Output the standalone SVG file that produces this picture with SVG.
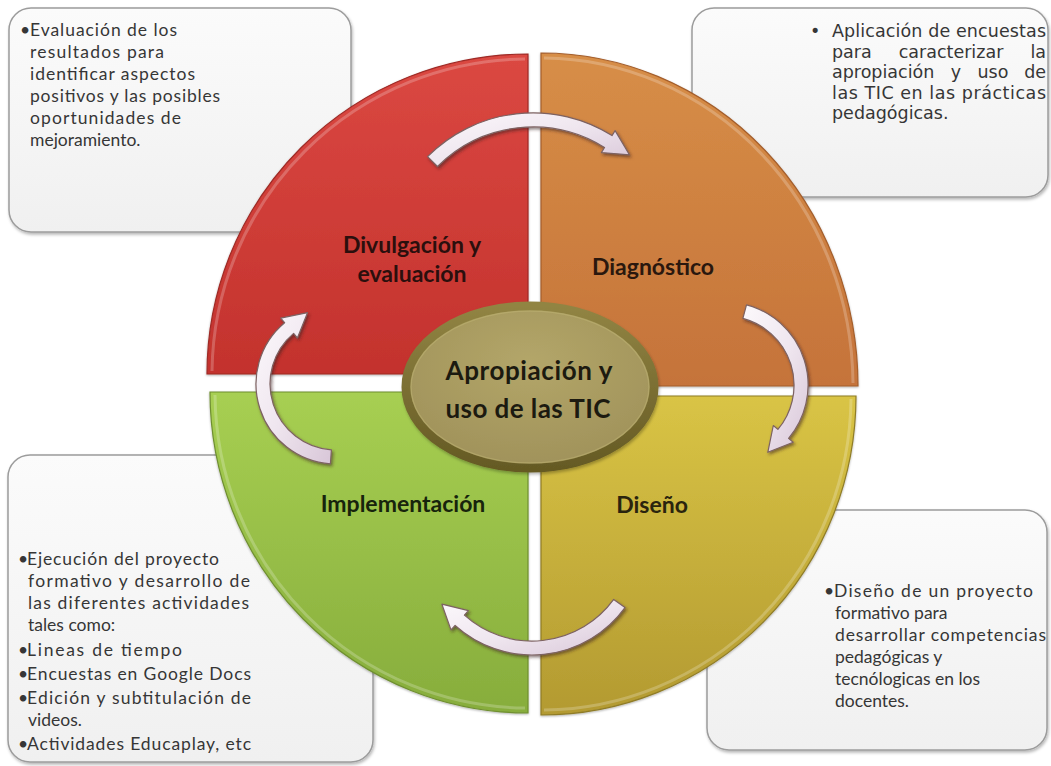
<svg xmlns="http://www.w3.org/2000/svg" width="1051" height="766" viewBox="0 0 1051 766">
  <defs>
    <style>
      .box { fill: url(#boxFill); stroke: #9c9c9c; stroke-width: 1.5; filter: url(#softShadow); }
      .note { font-family: Lato, "Liberation Sans", sans-serif; font-size: 17.5px; fill: #363636; }
      .note2 { font-family: "DejaVu Sans", "Liberation Sans", sans-serif; font-size: 17.5px; fill: #363636; }
      .mid { text-anchor: middle; }
      .end { text-anchor: end; }
      .lbl { font-family: Lato, "Liberation Sans", sans-serif; font-weight: 700; font-size: 23px; text-anchor: middle; }
      .core { font-family: Lato, "Liberation Sans", sans-serif; font-weight: 700; font-size: 26px; text-anchor: middle; fill: #1c1a10; }
      .arrow { fill: url(#arrowFill); stroke: #7d6262; stroke-width: 1.2; stroke-linejoin: round; filter: url(#arrowShadow); }
      .bevel { fill: none; stroke: #ffffff; stroke-opacity: 0.22; stroke-width: 3; }
    </style>
    <linearGradient id="boxFill" x1="0" y1="0" x2="0" y2="1">
      <stop offset="0" stop-color="#fbfbfb"/>
      <stop offset="1" stop-color="#f0f0f0"/>
    </linearGradient>
    <linearGradient id="redFill" gradientUnits="userSpaceOnUse" x1="0" y1="54" x2="0" y2="375">
      <stop offset="0" stop-color="#db4842"/>
      <stop offset="1" stop-color="#c3322d"/>
    </linearGradient>
    <linearGradient id="orangeFill" gradientUnits="userSpaceOnUse" x1="0" y1="53" x2="0" y2="386">
      <stop offset="0" stop-color="#d78e47"/>
      <stop offset="1" stop-color="#c5733a"/>
    </linearGradient>
    <linearGradient id="greenFill" gradientUnits="userSpaceOnUse" x1="0" y1="392" x2="0" y2="713">
      <stop offset="0" stop-color="#a7cf52"/>
      <stop offset="1" stop-color="#87ad3c"/>
    </linearGradient>
    <linearGradient id="yellowFill" gradientUnits="userSpaceOnUse" x1="0" y1="396" x2="0" y2="715">
      <stop offset="0" stop-color="#d9c445"/>
      <stop offset="1" stop-color="#b39a31"/>
    </linearGradient>
    <radialGradient id="coreFill" cx="0.5" cy="0.35" r="0.65">
      <stop offset="0" stop-color="#b3a669"/>
      <stop offset="1" stop-color="#a0925a"/>
    </radialGradient>
    <linearGradient id="coreRing" x1="0" y1="0" x2="0" y2="1">
      <stop offset="0" stop-color="#918443"/>
      <stop offset="1" stop-color="#655a24"/>
    </linearGradient>
    <linearGradient id="arrowFill" x1="0" y1="0" x2="1" y2="1">
      <stop offset="0" stop-color="#fcf9fc"/>
      <stop offset="0.5" stop-color="#efe6ef"/>
      <stop offset="1" stop-color="#d8c6d8"/>
    </linearGradient>
    <filter id="softShadow" x="-5%" y="-5%" width="110%" height="112%">
      <feDropShadow dx="1" dy="2" stdDeviation="1.5" flood-color="#000000" flood-opacity="0.28"/>
    </filter>
    <filter id="arrowShadow" x="-20%" y="-20%" width="140%" height="140%">
      <feDropShadow dx="1.5" dy="2" stdDeviation="1.5" flood-color="#3b2020" flood-opacity="0.55"/>
    </filter>
    <filter id="quadShadow" x="-5%" y="-5%" width="110%" height="110%">
      <feDropShadow dx="0" dy="1" stdDeviation="1" flood-color="#000000" flood-opacity="0.3"/>
    </filter>
  </defs>

  <rect width="1051" height="766" fill="#ffffff"/>

  <!-- description boxes (behind the wheel) -->
  <g id="note-evaluacion">
    <rect class="box" x="9" y="8" width="342" height="224" rx="22"/>
    <text class="note" x="20" y="36">•</text>
    <text class="note" x="30" y="36" textLength="147" lengthAdjust="spacing">Evaluación de los</text>
    <text class="note" x="30" y="58" textLength="134" lengthAdjust="spacing">resultados para</text>
    <text class="note" x="30" y="80" textLength="165" lengthAdjust="spacing">identificar aspectos</text>
    <text class="note" x="30" y="102" textLength="190" lengthAdjust="spacing">positivos y las posibles</text>
    <text class="note" x="30" y="124" textLength="151" lengthAdjust="spacing">oportunidades de</text>
    <text class="note" x="30" y="146">mejoramiento.</text>
  </g>

  <!-- justified paragraph: words placed one by one -->
  <g id="note-diagnostico">
    <rect class="box" x="692" y="8" width="356" height="189" rx="22"/>
    <text class="note2" x="810" y="37">•</text>
    <text class="note2" x="832" y="37" textLength="214" lengthAdjust="spacing">Aplicación de encuestas</text>
    <text class="note2" x="832" y="57.5">para</text>
    <text class="note2 mid" x="951" y="57.5">caracterizar</text>
    <text class="note2 end" x="1046" y="57.5">la</text>
    <text class="note2" x="832" y="78">apropiación</text>
    <text class="note2 mid" x="956" y="78">y</text>
    <text class="note2 mid" x="993" y="78">uso</text>
    <text class="note2 end" x="1046" y="78">de</text>
    <text class="note2" x="832" y="98.5" textLength="214" lengthAdjust="spacing">las TIC en las prácticas</text>
    <text class="note2" x="832" y="119">pedagógicas.</text>
  </g>

  <g id="note-implementacion">
    <rect class="box" x="8" y="455" width="365" height="307" rx="22"/>
    <text class="note" x="18" y="565">•</text>
    <text class="note" x="27" y="565" textLength="192" lengthAdjust="spacing">Ejecución del proyecto</text>
    <text class="note" x="28" y="587" textLength="222" lengthAdjust="spacing">formativo y desarrollo de</text>
    <text class="note" x="28" y="609" textLength="221" lengthAdjust="spacing">las diferentes actividades</text>
    <text class="note" x="28" y="631">tales como:</text>
    <text class="note" x="18" y="656">•</text>
    <text class="note" x="27" y="656" textLength="155" lengthAdjust="spacing">Lineas de tiempo</text>
    <text class="note" x="18" y="680">•</text>
    <text class="note" x="27" y="680" textLength="224" lengthAdjust="spacing">Encuestas en Google Docs</text>
    <text class="note" x="18" y="704">•</text>
    <text class="note" x="27" y="704" textLength="224" lengthAdjust="spacing">Edición y subtitulación de</text>
    <text class="note" x="28" y="726">videos.</text>
    <text class="note" x="18" y="750">•</text>
    <text class="note" x="27" y="750" textLength="224" lengthAdjust="spacing">Actividades Educaplay, etc</text>
  </g>

  <g id="note-diseno">
    <rect class="box" x="707" y="510" width="340" height="240" rx="22"/>
    <text class="note" x="824" y="597">•</text>
    <text class="note" x="834" y="597" textLength="199" lengthAdjust="spacing">Diseño de un proyecto</text>
    <text class="note" x="835" y="619">formativo para</text>
    <text class="note" x="835" y="641" textLength="211" lengthAdjust="spacing">desarrollar competencias</text>
    <text class="note" x="835" y="663">pedagógicas y</text>
    <text class="note" x="835" y="685">tecnólogicas en los</text>
    <text class="note" x="835" y="707">docentes.</text>
  </g>

  <!-- four stages of the cycle -->
  <g id="stage-divulgacion">
    <path d="M528,374 L207,374 A321,320 0 0 1 528,54 Z" fill="url(#redFill)" stroke="#9e2a25" stroke-width="1.2" filter="url(#quadShadow)"/>
    <path class="bevel" d="M212,371 A316,316 0 0 1 525,59"/>
    <text class="lbl" fill="#2b0f0d" x="412" y="253">Divulgación y</text>
    <text class="lbl" fill="#2b0f0d" x="412" y="282">evaluación</text>
  </g>

  <g id="stage-diagnostico">
    <path d="M541,386 L541,53 A317,333 0 0 1 858,386 Z" fill="url(#orangeFill)" stroke="#a45e2c" stroke-width="1.2" filter="url(#quadShadow)"/>
    <path class="bevel" d="M544,58 A312,328 0 0 1 853,383"/>
    <text class="lbl" fill="#2a180e" x="653" y="275">Diagnóstico</text>
  </g>

  <g id="stage-implementacion">
    <path d="M528,392 L528,713 A318,321 0 0 1 210,392 Z" fill="url(#greenFill)" stroke="#6f8f30" stroke-width="1.2" filter="url(#quadShadow)"/>
    <path class="bevel" d="M525,708 A313,316 0 0 1 215,395"/>
    <text class="lbl" fill="#17240c" x="403" y="512">Implementación</text>
  </g>

  <g id="stage-diseno">
    <path d="M541,396 L856,396 A315,319 0 0 1 541,715 Z" fill="url(#yellowFill)" stroke="#8f7c26" stroke-width="1.2" filter="url(#quadShadow)"/>
    <path class="bevel" d="M851,399 A310,314 0 0 1 544,710"/>
    <text class="lbl" fill="#2a240e" x="652" y="513">Diseño</text>
  </g>

  <!-- curved cycle arrows -->
  <g id="connectors">
    <path class="arrow" d="M427.6,156.6 A149,149 0 0 1 612.0,135.6 L615.1,130.6 L629.4,154.8 L601.4,152.6 L604.5,147.5 A135,135 0 0 0 437.5,166.5 Z"/>
    <path class="arrow" d="M746.5,304.8 A83,83 0 0 1 788.6,438.4 L793.2,442.2 L767.8,452.3 L773.3,425.5 L777.9,429.4 A69,69 0 0 0 742.9,318.4 Z"/>
    <path class="arrow" d="M625.0,607.6 A115,115 0 0 1 455.1,625.5 L451.0,629.9 L441.9,604.2 L468.4,610.6 L464.4,615.1 A101,101 0 0 0 613.7,599.4 Z"/>
    <path class="arrow" d="M330.4,463.8 A80,80 0 0 1 284.6,322.7 L280.7,318.1 L307.5,312.7 L297.4,338.0 L293.6,333.4 A66,66 0 0 0 331.4,449.8 Z"/>
  </g>

  <!-- central hub -->
  <g id="core">
    <ellipse cx="530" cy="387" rx="124" ry="81" fill="url(#coreFill)" stroke="url(#coreRing)" stroke-width="9" filter="url(#softShadow)"/>
    <ellipse cx="530" cy="387" rx="119" ry="76" fill="none" stroke="#c4b878" stroke-opacity="0.45" stroke-width="1.5"/>
    <text class="core" x="529" y="380" textLength="167" lengthAdjust="spacing">Apropiación  y</text>
    <text class="core" x="528" y="418" textLength="165" lengthAdjust="spacing">uso de las TIC</text>
  </g>
</svg>
